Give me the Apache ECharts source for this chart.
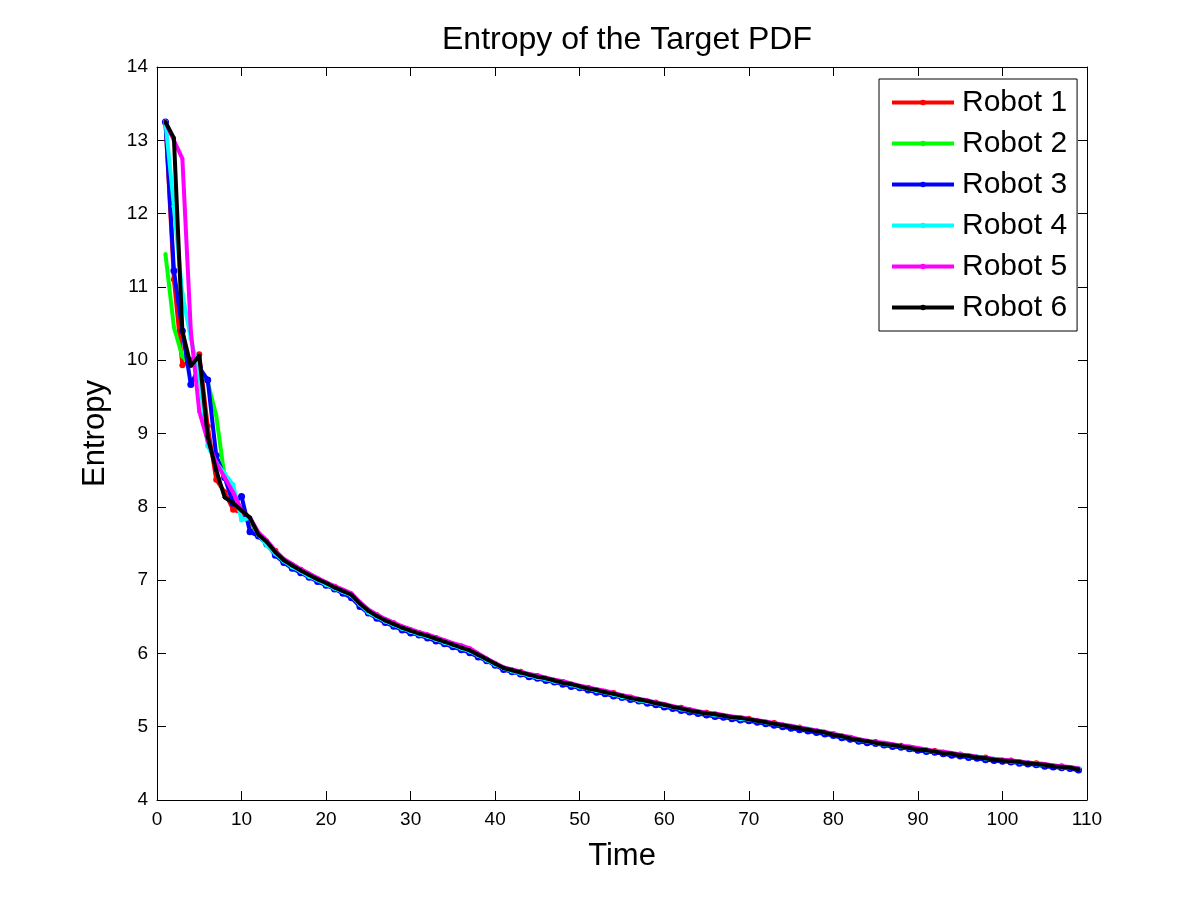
<!DOCTYPE html>
<html>
<head>
<meta charset="utf-8">
<script src="https://cdn.jsdelivr.net/npm/echarts@6/dist/echarts.min.js"></script>
<style>
html,body{margin:0;padding:0;background:#fff;}
#chart{width:1201px;height:900px;}
</style>
</head>
<body>
<div id="chart"></div>
<script>
// Time steps 1..109
const timeSteps = [];
for (let t = 1; t <= 109; t++) timeSteps.push(t);

const seriesNames = ["Robot 1", "Robot 2", "Robot 3", "Robot 4", "Robot 5", "Robot 6"];
const seriesColors = ["#ff0000", "#00ff00", "#0000ff", "#00ffff", "#ff00ff", "#000000"];

const robot1 = [13.25,11.10,9.93,10.00,10.08,9.10,8.37,8.20,7.96,7.92,7.80,7.62,
7.50,7.40,7.25,7.19,7.14,7.06,7.00,6.95,
6.91,6.84,6.79,6.67,6.57,6.52,6.44,6.41,6.34,6.30,
6.28,6.23,6.21,6.15,6.11,6.09,6.03,5.97,5.91,5.85,
5.78,5.76,5.75,5.70,5.69,5.65,5.62,5.61,5.57,5.54,
5.53,5.49,5.46,5.46,5.41,5.40,5.36,5.34,5.33,5.29,
5.26,5.26,5.21,5.19,5.19,5.16,5.14,5.12,5.11,5.11,
5.07,5.05,5.05,5.01,4.99,4.99,4.95,4.93,4.91,4.90,
4.86,4.85,4.81,4.79,4.79,4.75,4.74,4.74,4.70,4.68,
4.67,4.67,4.63,4.62,4.62,4.59,4.57,4.58,4.54,4.53,
4.54,4.51,4.49,4.50,4.47,4.45,4.46,4.43,4.41];

const robot2 = [11.45,10.45,10.05,9.95,9.90,9.70,9.25,8.40,8.15,7.98,7.83,7.60,
7.51,7.37,7.26,7.21,7.12,7.06,7.02,6.95,
6.89,6.86,6.78,6.66,6.59,6.50,6.46,6.39,6.34,6.32,
6.26,6.22,6.21,6.15,6.13,6.07,6.05,5.97,5.93,5.85,
5.79,5.78,5.73,5.72,5.67,5.65,5.64,5.59,5.58,5.54,
5.51,5.51,5.46,5.44,5.43,5.38,5.38,5.34,5.31,5.31,
5.26,5.24,5.23,5.19,5.17,5.18,5.14,5.12,5.13,5.09,
5.09,5.05,5.03,5.03,4.99,4.97,4.97,4.93,4.93,4.88,
4.88,4.83,4.83,4.79,4.77,4.77,4.74,4.72,4.72,4.68,
4.69,4.65,4.65,4.62,4.62,4.59,4.59,4.56,4.56,4.53,
4.53,4.51,4.51,4.48,4.49,4.45,4.46,4.43,4.43];

const robot3 = [13.25,11.22,10.40,9.67,9.90,9.73,8.70,8.40,8.05,8.14,7.66,7.60,
7.49,7.34,7.24,7.16,7.10,7.04,6.98,6.93,
6.88,6.82,6.76,6.64,6.55,6.48,6.42,6.37,6.32,6.28,
6.25,6.21,6.17,6.13,6.09,6.05,6.01,5.95,5.90,5.84,
5.78,5.75,5.72,5.68,5.66,5.63,5.61,5.58,5.55,5.53,
5.50,5.47,5.45,5.42,5.40,5.37,5.35,5.32,5.30,5.27,
5.25,5.22,5.20,5.18,5.16,5.14,5.13,5.11,5.09,5.08,
5.06,5.04,5.02,5.00,4.98,4.96,4.94,4.92,4.90,4.88,
4.85,4.83,4.80,4.78,4.77,4.75,4.73,4.72,4.70,4.68,
4.66,4.65,4.63,4.61,4.60,4.58,4.57,4.55,4.54,4.53,
4.52,4.50,4.49,4.48,4.46,4.45,4.44,4.43,4.41];

const robot4 = [13.25,12.10,10.90,10.30,9.80,8.83,8.60,8.45,8.30,7.82,7.85,7.62,
7.47,7.36,7.26,7.18,7.12,7.05,7.00,6.94,
6.89,6.84,6.79,6.67,6.56,6.50,6.44,6.39,6.34,6.30,
6.26,6.23,6.19,6.15,6.11,6.07,6.03,5.97,5.91,5.85,
5.80,5.76,5.73,5.70,5.67,5.65,5.62,5.60,5.57,5.54,
5.52,5.49,5.47,5.44,5.41,5.39,5.36,5.34,5.32,5.29,
5.27,5.24,5.22,5.20,5.18,5.16,5.15,5.13,5.11,5.10,
5.08,5.06,5.04,5.02,5.01,4.99,4.97,4.95,4.92,4.90,
4.87,4.85,4.82,4.80,4.78,4.76,4.75,4.73,4.71,4.70,
4.68,4.66,4.65,4.63,4.62,4.60,4.59,4.57,4.56,4.55,
4.53,4.52,4.51,4.49,4.48,4.47,4.45,4.44,4.43];

const robot5 = [13.25,13.00,12.75,10.40,9.30,8.90,8.60,8.40,8.20,7.95,7.85,7.65,
7.54,7.40,7.29,7.22,7.15,7.09,7.03,6.97,
6.92,6.87,6.82,6.70,6.60,6.53,6.47,6.42,6.37,6.33,
6.29,6.26,6.22,6.18,6.14,6.11,6.07,6.00,5.93,5.87,
5.81,5.78,5.75,5.72,5.70,5.67,5.64,5.62,5.59,5.56,
5.54,5.51,5.49,5.46,5.43,5.41,5.38,5.36,5.33,5.31,
5.28,5.26,5.24,5.21,5.19,5.18,5.16,5.14,5.13,5.11,
5.09,5.07,5.05,5.03,5.01,4.99,4.97,4.95,4.93,4.90,
4.88,4.86,4.83,4.81,4.79,4.78,4.76,4.74,4.73,4.71,
4.69,4.67,4.66,4.64,4.62,4.61,4.59,4.58,4.56,4.55,
4.54,4.53,4.51,4.50,4.49,4.47,4.46,4.45,4.43];

const robot6 = [13.25,13.03,10.40,9.92,10.06,8.96,8.50,8.13,8.05,7.95,7.85,7.62,
7.52,7.38,7.27,7.20,7.13,7.07,7.01,6.96,
6.90,6.85,6.80,6.68,6.58,6.51,6.45,6.40,6.35,6.31,
6.27,6.24,6.20,6.16,6.12,6.08,6.04,5.98,5.92,5.86,
5.80,5.77,5.74,5.71,5.68,5.66,5.63,5.60,5.58,5.55,
5.52,5.50,5.47,5.45,5.42,5.39,5.37,5.35,5.32,5.30,
5.27,5.25,5.22,5.20,5.18,5.17,5.15,5.13,5.12,5.10,
5.08,5.06,5.04,5.02,5.00,4.98,4.96,4.94,4.92,4.89,
4.87,4.84,4.82,4.80,4.78,4.76,4.75,4.73,4.71,4.69,
4.68,4.66,4.64,4.63,4.61,4.60,4.58,4.57,4.55,4.54,
4.53,4.52,4.50,4.49,4.48,4.46,4.45,4.44,4.42];

const allValues = [robot1, robot2, robot3, robot4, robot5, robot6];
const symbolSizes = [6, 4, 7, 5, 4, 4];

const FONT = '"Liberation Sans", Arial, Helvetica, sans-serif';

const chart = echarts.init(document.getElementById('chart'), null, {renderer: 'canvas'});

function axisBase() {
  return {
    axisLine: {show: true, onZero: false, lineStyle: {color: '#000', width: 1}},
    axisTick: {show: true, inside: true, length: 9, lineStyle: {color: '#000', width: 1}},
    splitLine: {show: false}
  };
}

const option = {
  animation: false,
  backgroundColor: '#fff',
  title: {
    text: 'Entropy of the Target PDF',
    left: 622,
    textAlign: 'center',
    top: 19,
    textStyle: {fontFamily: FONT, fontSize: 32, fontWeight: 'normal', color: '#000'}
  },
  legend: {
    data: seriesNames,
    orient: 'vertical',
    left: 879,
    top: 79,
    itemWidth: 62,
    itemHeight: 7,
    itemGap: 0,
    padding: [3, 10, 3, 11],
    borderColor: '#000',
    borderWidth: 1,
    backgroundColor: '#fff',
    lineStyle: {width: 4},
    textStyle: {fontFamily: FONT, fontSize: 30, color: '#000', lineHeight: 41, padding: [0, 0, 0, 3]}
  },
  grid: {left: 157, right: 114, top: 67, bottom: 100, containLabel: false},
  xAxis: [
    Object.assign(axisBase(), {
      type: 'value', min: 0, max: 110, interval: 10, position: 'bottom',
      name: 'Time', nameLocation: 'middle', nameGap: 41,
      nameTextStyle: {fontFamily: FONT, fontSize: 31, color: '#000'},
      axisLabel: {fontFamily: FONT, fontSize: 19, color: '#000', margin: 10}
    }),
    Object.assign(axisBase(), {
      type: 'value', min: 0, max: 110, interval: 10, position: 'top',
      axisLabel: {show: false}
    })
  ],
  yAxis: [
    Object.assign(axisBase(), {
      type: 'value', min: 4, max: 14, interval: 1, position: 'left',
      name: 'Entropy', nameLocation: 'middle', nameGap: 46,
      nameTextStyle: {fontFamily: FONT, fontSize: 31, color: '#000'},
      axisLabel: {fontFamily: FONT, fontSize: 19, color: '#000', margin: 9}
    }),
    Object.assign(axisBase(), {
      type: 'value', min: 4, max: 14, interval: 1, position: 'right',
      axisLabel: {show: false}
    })
  ],
  series: seriesNames.map((name, i) => ({
    name: name,
    type: 'line',
    xAxisIndex: 0,
    yAxisIndex: 0,
    data: timeSteps.map((t, k) => [t, allValues[i][k]]),
    symbol: 'circle',
    symbolSize: symbolSizes[i],
    showSymbol: true,
    color: seriesColors[i],
    lineStyle: {width: 4, color: seriesColors[i]},
    itemStyle: {color: seriesColors[i]},
    z: 2 + i
  }))
};

chart.setOption(option);
</script>
</body>
</html>
